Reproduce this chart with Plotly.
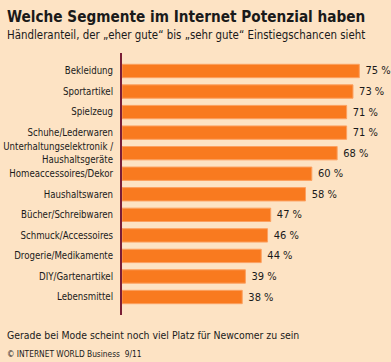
import plotly.graph_objects as go

categories = ["Bekleidung", "Sportartikel", "Spielzeug", "Schuhe/Lederwaren",
              "Unterhaltungselektronik /<br>Haushaltsgeräte", "Homeaccessoires/Dekor",
              "Haushaltswaren", "Bücher/Schreibwaren", "Schmuck/Accessoires",
              "Drogerie/Medikamente", "DIY/Gartenartikel", "Lebensmittel"]
values = [75, 73, 71, 71, 68, 60, 58, 47, 46, 44, 39, 38]
value_labels = [f"\u00a0{v} %" for v in values]

title = "Welche Segmente im Internet Potenzial haben"
subtitle = "Händleranteil, der „eher gute“ bis „sehr gute“ Einstiegschancen sieht"
footnote = "Gerade bei Mode scheint noch viel Platz für Newcomer zu sein"
source = "© INTERNET WORLD Business  9/11"

BG = "#FDE3C4"
ORANGE = "#F97A1F"
FONT = "Liberation Sans Narrow, DejaVu Sans Condensed, Arial Narrow, sans-serif"

fig = go.Figure(go.Bar(
    y=categories, x=values, orientation="h",
    marker=dict(color=ORANGE, line=dict(color="#FCA060", width=1)),
    width=0.65,
    text=value_labels, textposition="outside", cliponaxis=False,
    textfont=dict(family=FONT, size=11, color="#1a1a1a"),
    hoverinfo="skip",
))

W, H = 391, 362
left, right, top, bottom = 122, 6, 53, 362 - 315
pw, ph = W - left - right, H - top - bottom


def px(x):
    return (x - left) / pw


def py(y):
    return (H - bottom - y) / ph


fig.update_layout(
    width=W, height=H,
    paper_bgcolor=BG, plot_bgcolor=BG,
    margin=dict(l=left, r=right, t=top, b=bottom, pad=0, autoexpand=False),
    showlegend=False,
    bargap=0.35,
    font=dict(family=FONT, color="#1a1a1a"),
    xaxis=dict(range=[0, pw / 3.164], visible=False, fixedrange=True, automargin=False),
    yaxis=dict(autorange=False, range=[11.875, -0.875], showgrid=False, zeroline=False,
               showline=True, linecolor="#7A1E36", linewidth=2, automargin=False,
               ticks="", ticklabelstandoff=5,
               tickfont=dict(family=FONT, size=9.6, color="#1a1a1a"), fixedrange=True),
    annotations=[
        dict(text=f"<b>{title}</b>", x=px(5), y=py(6), xref="paper", yref="paper", showarrow=False,
             xanchor="left", yanchor="top", font=dict(family=FONT, size=15.2, color="#1a1a1a")),
        dict(text=subtitle, x=px(5), y=py(26), xref="paper", yref="paper", showarrow=False,
             xanchor="left", yanchor="top", font=dict(family=FONT, size=11.4, color="#1a1a1a")),
        dict(text=footnote, x=px(5), y=py(327), xref="paper", yref="paper", showarrow=False,
             xanchor="left", yanchor="top", font=dict(family=FONT, size=10.4, color="#1a1a1a")),
        dict(text=source, x=px(5), y=py(347), xref="paper", yref="paper", showarrow=False,
             xanchor="left", yanchor="top", font=dict(family=FONT, size=8.3, color="#1a1a1a")),
    ],
)

fig.write_html(
    "out.html",
    config={"displayModeBar": False},
    post_script="document.body.style.margin='0';document.body.style.background='%s';" % BG,
)
